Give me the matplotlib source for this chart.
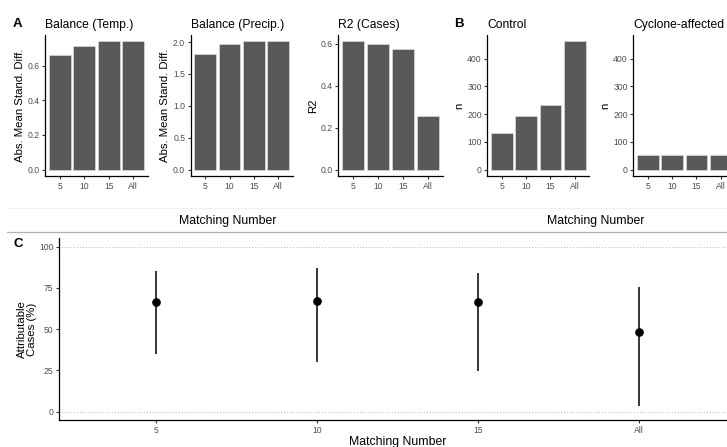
import numpy as np
import matplotlib.pyplot as plt
from matplotlib.lines import Line2D

plt.rcParams['font.family'] = ['Liberation Sans', 'DejaVu Sans']

W, H = 727, 447

# matching numbers (x categories, shared by every panel)
matching = ["5", "10", "15", "All"]

# panel A: balance and model fit
balance_temp = [0.663, 0.712, 0.739, 0.739]
balance_precip = [1.82, 1.965, 2.01, 2.01]
r2_cases = [0.611, 0.600, 0.573, 0.256]

# panel B: sample sizes
n_control = [131, 193, 232, 462]
n_cyclone = [54, 54, 54, 54]

# panel C: attributable cases (%) with interval
attr_est = [66.5, 67.0, 66.4, 48.4]
attr_low = [35.1, 30.2, 24.8, 3.6]
attr_high = [85.3, 87.3, 84.1, 75.8]

BAR = "#595959"
TICK_TXT = "#4d4d4d"

fig = plt.figure(figsize=(W / 100, H / 100), dpi=100)


def px_axes(x0, y0, x1, y1):
    # axes placed in pixel coordinates (origin top-left)
    return fig.add_axes([x0 / W, 1 - y1 / H, (x1 - x0) / W, (y1 - y0) / H])


def classic(ax):
    for s in ["top", "right"]:
        ax.spines[s].set_visible(False)
    for s in ["left", "bottom"]:
        ax.spines[s].set_linewidth(0.9)
        ax.spines[s].set_color("black")
    ax.tick_params(length=2.5, width=0.8, color="#333333", labelsize=6.2,
                   labelcolor=TICK_TXT, pad=1.5)


xpos = np.arange(len(matching))

# ---- top row (A and B) ----
top_panels = [
    (45, 148, balance_temp, "Balance (Temp.)", "Abs. Mean Stand. Diff.",
     [0, 0.2, 0.4, 0.6], "{:.1f}", max(balance_temp)),
    (190.7, 292.7, balance_precip, "Balance (Precip.)", "Abs. Mean Stand. Diff.",
     [0, 0.5, 1.0, 1.5, 2.0], "{:.1f}", max(balance_precip)),
    (338.3, 442.7, r2_cases, "R2 (Cases)", "R2",
     [0, 0.2, 0.4, 0.6], "{:.1f}", max(r2_cases)),
    (487.3, 589.3, n_control, "Control", "n",
     [0, 100, 200, 300, 400], "{:.0f}", max(n_control)),
    (633.3, 735.3, n_cyclone, "Cyclone-affected", "n",
     [0, 100, 200, 300, 400], "{:.0f}", max(n_control)),
]

for x0, x1, vals, title, ylab, yt, fmt, top in top_panels:
    ax = px_axes(x0, 35, x1, 176)
    classic(ax)
    ax.bar(xpos, vals, width=0.9, color=BAR, edgecolor="#e6e6e6", linewidth=0.4)
    ax.set_xlim(-0.6, 3.6)
    ax.set_ylim(-0.05 * top, 1.05 * top)
    ax.set_xticks(xpos)
    ax.set_xticklabels(matching)
    ax.set_yticks(yt)
    ax.set_yticklabels([fmt.format(v) for v in yt])
    ax.set_title(title, loc="left", fontsize=8.7, pad=5)
    ax.set_ylabel(ylab, fontsize=8.2, labelpad=2)

fig.text(13 / W, 1 - 27 / H, "A", fontsize=9.5, fontweight="bold", va="baseline")
fig.text(454 / W, 1 - 27 / H, "B", fontsize=9.5, fontweight="bold", va="baseline")

# shared axis titles of the top row
fig.text(228 / W, 1 - 221 / H, "Matching Number", fontsize=8.8, ha="center", va="center")
fig.text(595.5 / W, 1 - 221 / H, "Matching Number", fontsize=8.8, ha="center", va="center")
fig.add_artist(Line2D([7.3 / W, 1], [1 - 208.3 / H] * 2, color="#f0f0f0", lw=0.8,
                      transform=fig.transFigure))
fig.add_artist(Line2D([7.3 / W, 1], [1 - 232.3 / H] * 2, color="#b3b3b3", lw=0.9,
                      transform=fig.transFigure))

# ---- bottom row (C) ----
axc = px_axes(59, 238.3, 736, 420)
classic(axc)
axc.axhline(0, color="#b3b3b3", lw=0.7, ls=(0, (1, 2)), zorder=0)
axc.axhline(100, color="#b3b3b3", lw=0.7, ls=(0, (1, 2)), zorder=0)
axc.vlines(xpos, attr_low, attr_high, color="black", lw=1.1)
axc.plot(xpos, attr_est, "o", ms=5.2, color="black")
axc.set_xlim(-0.6, 3.6)
axc.set_ylim(-5, 105)
axc.set_xticks(xpos)
axc.set_xticklabels(matching)
axc.set_yticks([0, 25, 50, 75, 100])
axc.set_ylabel("Attributable\nCases (%)", fontsize=8.2, labelpad=1.5, linespacing=1.0)
axc.set_xlabel("Matching Number", fontsize=8.8, labelpad=1)

fig.text(14 / W, 1 - 247 / H, "C", fontsize=9.5, fontweight="bold", va="baseline")

fig.savefig("out.png", dpi=100)
